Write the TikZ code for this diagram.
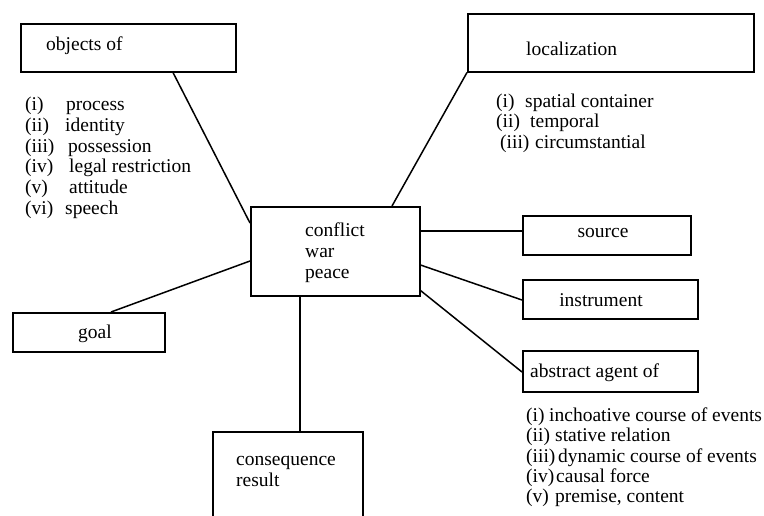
\documentclass[tikz,border=0pt]{standalone}
\usepackage{fontspec}
\setmainfont{Liberation Serif}
\usetikzlibrary{calc}
\tikzset{
  boxnode/.style={draw, line width=1.5pt, rectangle, inner sep=0pt, anchor=north west},
  txt/.style={inner sep=0pt, anchor=base west, font=\fontsize{19.5}{21}\selectfont},
  ctxt/.style={inner sep=0pt, anchor=base, font=\fontsize{19.5}{21}\selectfont},
  conn/.style={line width=1.5pt}
}
\begin{document}
\begin{tikzpicture}[x=1pt,y=-1pt]
\useasboundingbox (0,0) rectangle (764,515);
\clip (0,0) rectangle (764,515);
% boxes
\node[boxnode, minimum width=215pt, minimum height=48pt] (obj) at (20,23) {};
\node[boxnode, minimum width=286pt, minimum height=58pt] (loc) at (467,13) {};
\node[boxnode, minimum width=169pt, minimum height=89pt] (cen) at (250,206) {};
\node[boxnode, minimum width=168pt, minimum height=39pt] (src) at (522,215) {};
\node[boxnode, minimum width=175pt, minimum height=39pt] (ins) at (522,279) {};
\node[boxnode, minimum width=175pt, minimum height=41pt] (abs) at (522,350) {};
\node[boxnode, minimum width=152pt, minimum height=39pt] (goal) at (12,312) {};
\node[boxnode, minimum width=150pt, minimum height=100pt] (cons) at (212,431) {};
% box texts
\node[txt] (tobj) at (46,50) {objects of};
\node[txt] (tloc) at (526,55) {localization};
\node[txt] (tc1) at (305,236) {conflict};
\node[txt] (tc2) at (305,257) {war};
\node[txt] (tc3) at (305,278) {peace};
\node[ctxt] (tsrc) at (603,237) {source};
\node[ctxt] (tins) at (601,306) {instrument};
\node[txt] (tabs) at (530,377) {abstract agent of};
\node[ctxt] (tgoal) at (95,338) {goal};
\node[txt] (tcons1) at (236,465) {consequence};
\node[txt] (tcons2) at (236,486) {result};
% objects list
\node[txt] (ol1) at (25,110) {(i)};   \node[txt] (oi1) at (66,110) {process};
\node[txt] (ol2) at (25,131) {(ii)};  \node[txt] (oi2) at (65,131) {identity};
\node[txt] (ol3) at (25,152) {(iii)}; \node[txt] (oi3) at (68,152) {possession};
\node[txt] (ol4) at (25,172) {(iv)};  \node[txt] (oi4) at (69,172) {legal restriction};
\node[txt] (ol5) at (25,193) {(v)};   \node[txt] (oi5) at (69,193) {attitude};
\node[txt] (ol6) at (25,214) {(vi)};  \node[txt] (oi6) at (65,214) {speech};
% localization list
\node[txt] (ll1) at (496,107) {(i)};   \node[txt] (li1) at (525,107) {spatial container};
\node[txt] (ll2) at (496,127.5) {(ii)};  \node[txt] (li2) at (530,127.5) {temporal};
\node[txt] (ll3) at (500,148) {(iii)}; \node[txt] (li3) at (535,148) {circumstantial};
% abstract agent list
\node[txt] (al1) at (526,421) {(i)};   \node[txt] (ai1) at (549,421) {inchoative course of events};
\node[txt] (al2) at (526,441.5) {(ii)};  \node[txt] (ai2) at (555,441.5) {stative relation};
\node[txt] (al3) at (526,462) {(iii)}; \node[txt] (ai3) at (558,462) {dynamic course of events};
\node[txt] (al4) at (526,482) {(iv)};  \node[txt] (ai4) at (556,482) {causal force};
\node[txt] (al5) at (526,502.5) {(v)};   \node[txt] (ai5) at (555,502.5) {premise, content};
% connectors
\draw[conn] ([xshift=153pt]obj.south west) -- ([yshift=-17pt]cen.north west);
\draw[conn] (loc.south west) -- ([xshift=142pt]cen.north west);
\draw[conn] ([yshift=-25pt]cen.north east) -- ([yshift=-16pt]src.north west);
\draw[conn] ([yshift=-59pt]cen.north east) -- ([yshift=-21pt]ins.north west);
\draw[conn] ([yshift=6pt]cen.south east) -- ([yshift=-22pt]abs.north west);
\draw[conn] ([yshift=-55pt]cen.north west) -- ([xshift=99pt]goal.north west);
\draw[conn] ([xshift=50pt]cen.south west) -- ([xshift=88pt]cons.north west);
\end{tikzpicture}
\end{document}
